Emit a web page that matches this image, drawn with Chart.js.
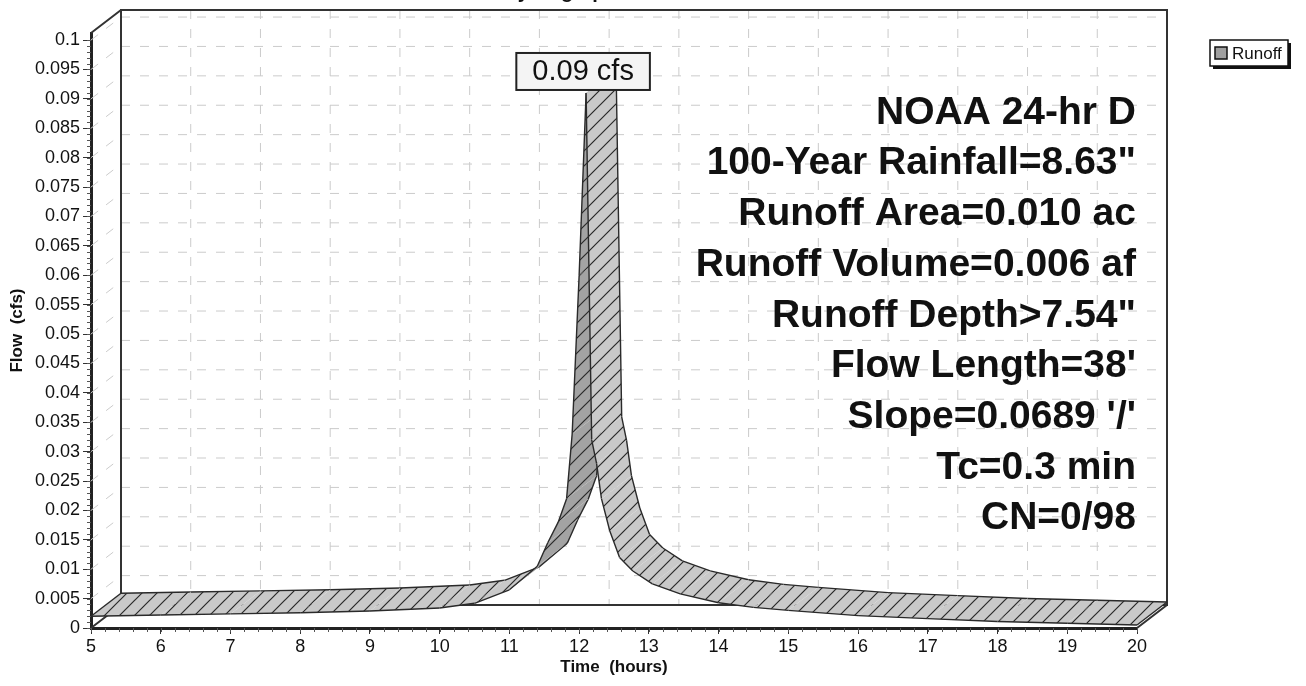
<!DOCTYPE html>
<html>
<head>
<meta charset="utf-8">
<title>Runoff Hydrograph</title>
<script src="https://cdn.jsdelivr.net/npm/chart.js@4.4.0/dist/chart.umd.min.js"></script>
<style>
  html, body { margin: 0; padding: 0; background: #fff; }
  #wrap { width: 1306px; height: 686px; }
</style>
</head>
<body>
<div id="wrap"><canvas id="hydroChart" width="1306" height="686"></canvas></div>
<script>
// Runoff hydrograph, values
const timeHours = [5, 6, 7, 8, 9, 10, 10.5, 11, 11.4, 11.55, 11.7, 11.82, 11.9, 12.0, 12.1,
                   12.18, 12.25, 12.32, 12.44, 12.58, 12.77, 13.05, 13.45, 14, 14.5, 15, 16, 17, 18, 19, 20];
const flowCfs = [0.0020, 0.0022, 0.0024, 0.0026, 0.0029, 0.0034, 0.0042, 0.0065, 0.0105, 0.0145, 0.0180, 0.0220, 0.0330, 0.0600, 0.0910,
                 0.0320, 0.0280, 0.0220, 0.0165, 0.0120, 0.0097, 0.0075, 0.0058, 0.0043, 0.0035, 0.0030, 0.0021, 0.0016, 0.0011, 0.0008, 0.0005];

const seriesName = 'Runoff';
const peakLabel = '0.09 cfs';
const chartTitle = 'Hydrograph';
const notes = [
    'NOAA 24-hr D',
    '100-Year Rainfall=8.63"',
    'Runoff Area=0.010 ac',
    'Runoff Volume=0.006 af',
    'Runoff Depth>7.54"',
    "Flow Length=38'",
    "Slope=0.0689 '/'",
    'Tc=0.3 min',
    'CN=0/98'
];

// depth of the fake 3D box (pixels)
const DX = 30, DY = -23;
const FONT = '"Liberation Sans", Arial, Helvetica, sans-serif';

function hatch(bg) {
    const c = document.createElement('canvas');
    c.width = 15; c.height = 15;
    const g = c.getContext('2d');
    g.fillStyle = bg;
    g.fillRect(0, 0, 15, 15);
    g.strokeStyle = '#2a2a2a';
    g.lineWidth = 1.2;
    g.beginPath();
    g.moveTo(-1, 16); g.lineTo(16, -1);
    g.moveTo(-8, 8); g.lineTo(8, -8);
    g.moveTo(7, 23); g.lineTo(23, 7);
    g.stroke();
    return c;
}

// back wall, grid and box edges
const wall3d = {
    id: 'wall3d',
    beforeDatasetsDraw(chart) {
        const { ctx, chartArea: a, scales: { x, y } } = chart;
        ctx.save();
        ctx.strokeStyle = '#cbcbcb';
        ctx.lineWidth = 1;
        ctx.setLineDash([9, 10]);
        y.ticks.forEach(t => {
            if (t.value === 0) return;
            const py = y.getPixelForValue(t.value);
            ctx.beginPath();
            ctx.moveTo(a.left + DX, py + DY);
            ctx.lineTo(a.right + DX, py + DY);
            ctx.stroke();
            // left wall
            ctx.beginPath();
            ctx.moveTo(a.left, py);
            ctx.lineTo(a.left + DX, py + DY);
            ctx.stroke();
        });
        x.ticks.forEach(t => {
            if (t.value === 5 || t.value === 20) return;
            const px = x.getPixelForValue(t.value);
            ctx.beginPath();
            ctx.moveTo(px + DX, a.top + DY);
            ctx.lineTo(px + DX, a.bottom + DY);
            ctx.stroke();
        });
        ctx.setLineDash([]);
        ctx.strokeStyle = '#333';
        ctx.lineWidth = 2;
        ctx.strokeRect(a.left + DX, a.top + DY, a.right - a.left, a.bottom - a.top);
        ctx.beginPath();
        ctx.moveTo(a.left, a.top); ctx.lineTo(a.left + DX, a.top + DY);
        ctx.moveTo(a.left, a.bottom); ctx.lineTo(a.left + DX, a.bottom + DY);
        ctx.moveTo(a.right, a.bottom); ctx.lineTo(a.right + DX, a.bottom + DY);
        ctx.stroke();

        // minor ticks
        ctx.strokeStyle = '#555';
        ctx.lineWidth = 1;
        ctx.beginPath();
        for (let v = 0; v <= 0.1001; v += 0.001) {
            const py = Math.round(y.getPixelForValue(v)) + 0.5;
            ctx.moveTo(a.left - 4, py); ctx.lineTo(a.left, py);
        }
        for (let h = 5; h <= 20.001; h += 0.2) {
            const px = Math.round(x.getPixelForValue(h)) + 0.5;
            ctx.moveTo(px, a.bottom); ctx.lineTo(px, a.bottom + 4);
        }
        ctx.stroke();
        ctx.restore();
    }
};

// ribbon drawn from the dataset points the scales produced
const ribbon = {
    id: 'ribbon',
    afterDatasetsDraw(chart) {
        const { ctx } = chart;
        const pts = chart.getDatasetMeta(0).data;
        const topFill = ctx.createPattern(hatch('#c9c9c9'), 'repeat');
        const underFill = ctx.createPattern(hatch('#a3a3a3'), 'repeat');
        ctx.save();
        ctx.lineJoin = 'round';
        for (let i = 0; i < pts.length - 1; i++) {
            const A = pts[i], B = pts[i + 1];
            const bx = B.x - A.x, by = B.y - A.y;
            const cross = bx * DY - by * DX;
            ctx.beginPath();
            ctx.moveTo(A.x, A.y);
            ctx.lineTo(B.x, B.y);
            ctx.lineTo(B.x + DX, B.y + DY);
            ctx.lineTo(A.x + DX, A.y + DY);
            ctx.closePath();
            ctx.fillStyle = cross > 0 ? underFill : topFill;
            ctx.fill();
            ctx.strokeStyle = '#2a2a2a';
            ctx.lineWidth = 1.4;
            ctx.beginPath();
            ctx.moveTo(A.x, A.y); ctx.lineTo(B.x, B.y);
            ctx.moveTo(A.x + DX, A.y + DY); ctx.lineTo(B.x + DX, B.y + DY);
            ctx.stroke();
        }
        // end caps
        [pts[0], pts[pts.length - 1]].forEach(P => {
            ctx.beginPath();
            ctx.moveTo(P.x, P.y); ctx.lineTo(P.x + DX, P.y + DY);
            ctx.stroke();
        });
        ctx.restore();
    }
};

const extras = {
    id: 'extras',
    afterDraw(chart) {
        const { ctx } = chart;
        ctx.save();

        // title, cut off by the top of the page
        ctx.fillStyle = '#111';
        ctx.font = 'bold 20px ' + FONT;
        ctx.textAlign = 'center';
        ctx.textBaseline = 'alphabetic';
        ctx.fillText(chartTitle, 560, -2);

        // peak label
        const pts = chart.getDatasetMeta(0).data;
        let k = 0;
        flowCfs.forEach((v, i) => { if (v > flowCfs[k]) k = i; });
        const P = pts[k];
        ctx.font = '29px ' + FONT;
        const w = ctx.measureText(peakLabel).width + 32;
        const h = 37;
        const bx = P.x - 3 - w / 2, by = P.y - 3 - h;
        ctx.fillStyle = '#f4f4f4';
        ctx.fillRect(bx, by, w, h);
        ctx.strokeStyle = '#222';
        ctx.lineWidth = 2;
        ctx.strokeRect(bx, by, w, h);
        ctx.fillStyle = '#111';
        ctx.textBaseline = 'middle';
        ctx.fillText(peakLabel, bx + w / 2, by + h / 2 + 1);

        // run notes
        ctx.font = 'bold 39px ' + FONT;
        ctx.textAlign = 'right';
        ctx.textBaseline = 'middle';
        notes.forEach((s, i) => ctx.fillText(s, 1136, 113 + i * 50.7));

        // legend
        const lx = 1210, ly = 40, lw = 78, lh = 26;
        ctx.fillStyle = '#111';
        ctx.fillRect(lx + 3, ly + 3, lw, lh);
        ctx.fillStyle = '#fff';
        ctx.fillRect(lx, ly, lw, lh);
        ctx.strokeStyle = '#111';
        ctx.lineWidth = 1.5;
        ctx.strokeRect(lx, ly, lw, lh);
        ctx.fillStyle = '#a0a0a0';
        ctx.fillRect(lx + 5, ly + 7, 12, 12);
        ctx.strokeRect(lx + 5, ly + 7, 12, 12);
        ctx.fillStyle = '#111';
        ctx.font = '17px ' + FONT;
        ctx.textAlign = 'left';
        ctx.fillText(seriesName, lx + 22, ly + lh / 2 + 1);
        ctx.restore();
    }
};

new Chart(document.getElementById('hydroChart'), {
    type: 'line',
    data: {
        datasets: [{
            label: seriesName,
            data: timeHours.map((t, i) => ({ x: t, y: flowCfs[i] })),
            borderWidth: 0,
            pointRadius: 0,
            showLine: false
        }]
    },
    options: {
        responsive: false,
        animation: false,
        devicePixelRatio: 1,
        layout: { padding: { left: 0, right: 169, top: 33, bottom: 0 } },
        plugins: { legend: { display: false }, tooltip: { enabled: false } },
        scales: {
            x: {
                type: 'linear',
                min: 5,
                max: 20,
                afterFit: s => { s.height = 58; },
                ticks: { stepSize: 1, color: '#111', font: { family: FONT, size: 18 }, padding: 2, maxRotation: 0 },
                grid: { drawOnChartArea: false, drawTicks: true, tickLength: 6, tickColor: '#333' },
                border: { color: '#222', width: 3 },
                title: { display: true, text: 'Time  (hours)', color: '#111',
                         font: { family: FONT, size: 17, weight: 'bold' }, padding: { top: 0, bottom: 8 } }
            },
            y: {
                min: 0,
                max: 0.1012,
                afterFit: s => { s.width = 91; },
                ticks: { stepSize: 0.005, includeBounds: false, color: '#111', padding: 3,
                         font: { family: FONT, size: 18 },
                         callback: v => String(+v.toFixed(3)) },
                grid: { drawOnChartArea: false, drawTicks: true, tickLength: 8, tickColor: '#333' },
                border: { color: '#222', width: 3 },
                title: { display: true, text: 'Flow  (cfs)', color: '#111',
                         font: { family: FONT, size: 17, weight: 'bold' }, padding: { top: 7, bottom: 0 } }
            }
        }
    },
    plugins: [wall3d, ribbon, extras]
});
</script>
</body>
</html>
